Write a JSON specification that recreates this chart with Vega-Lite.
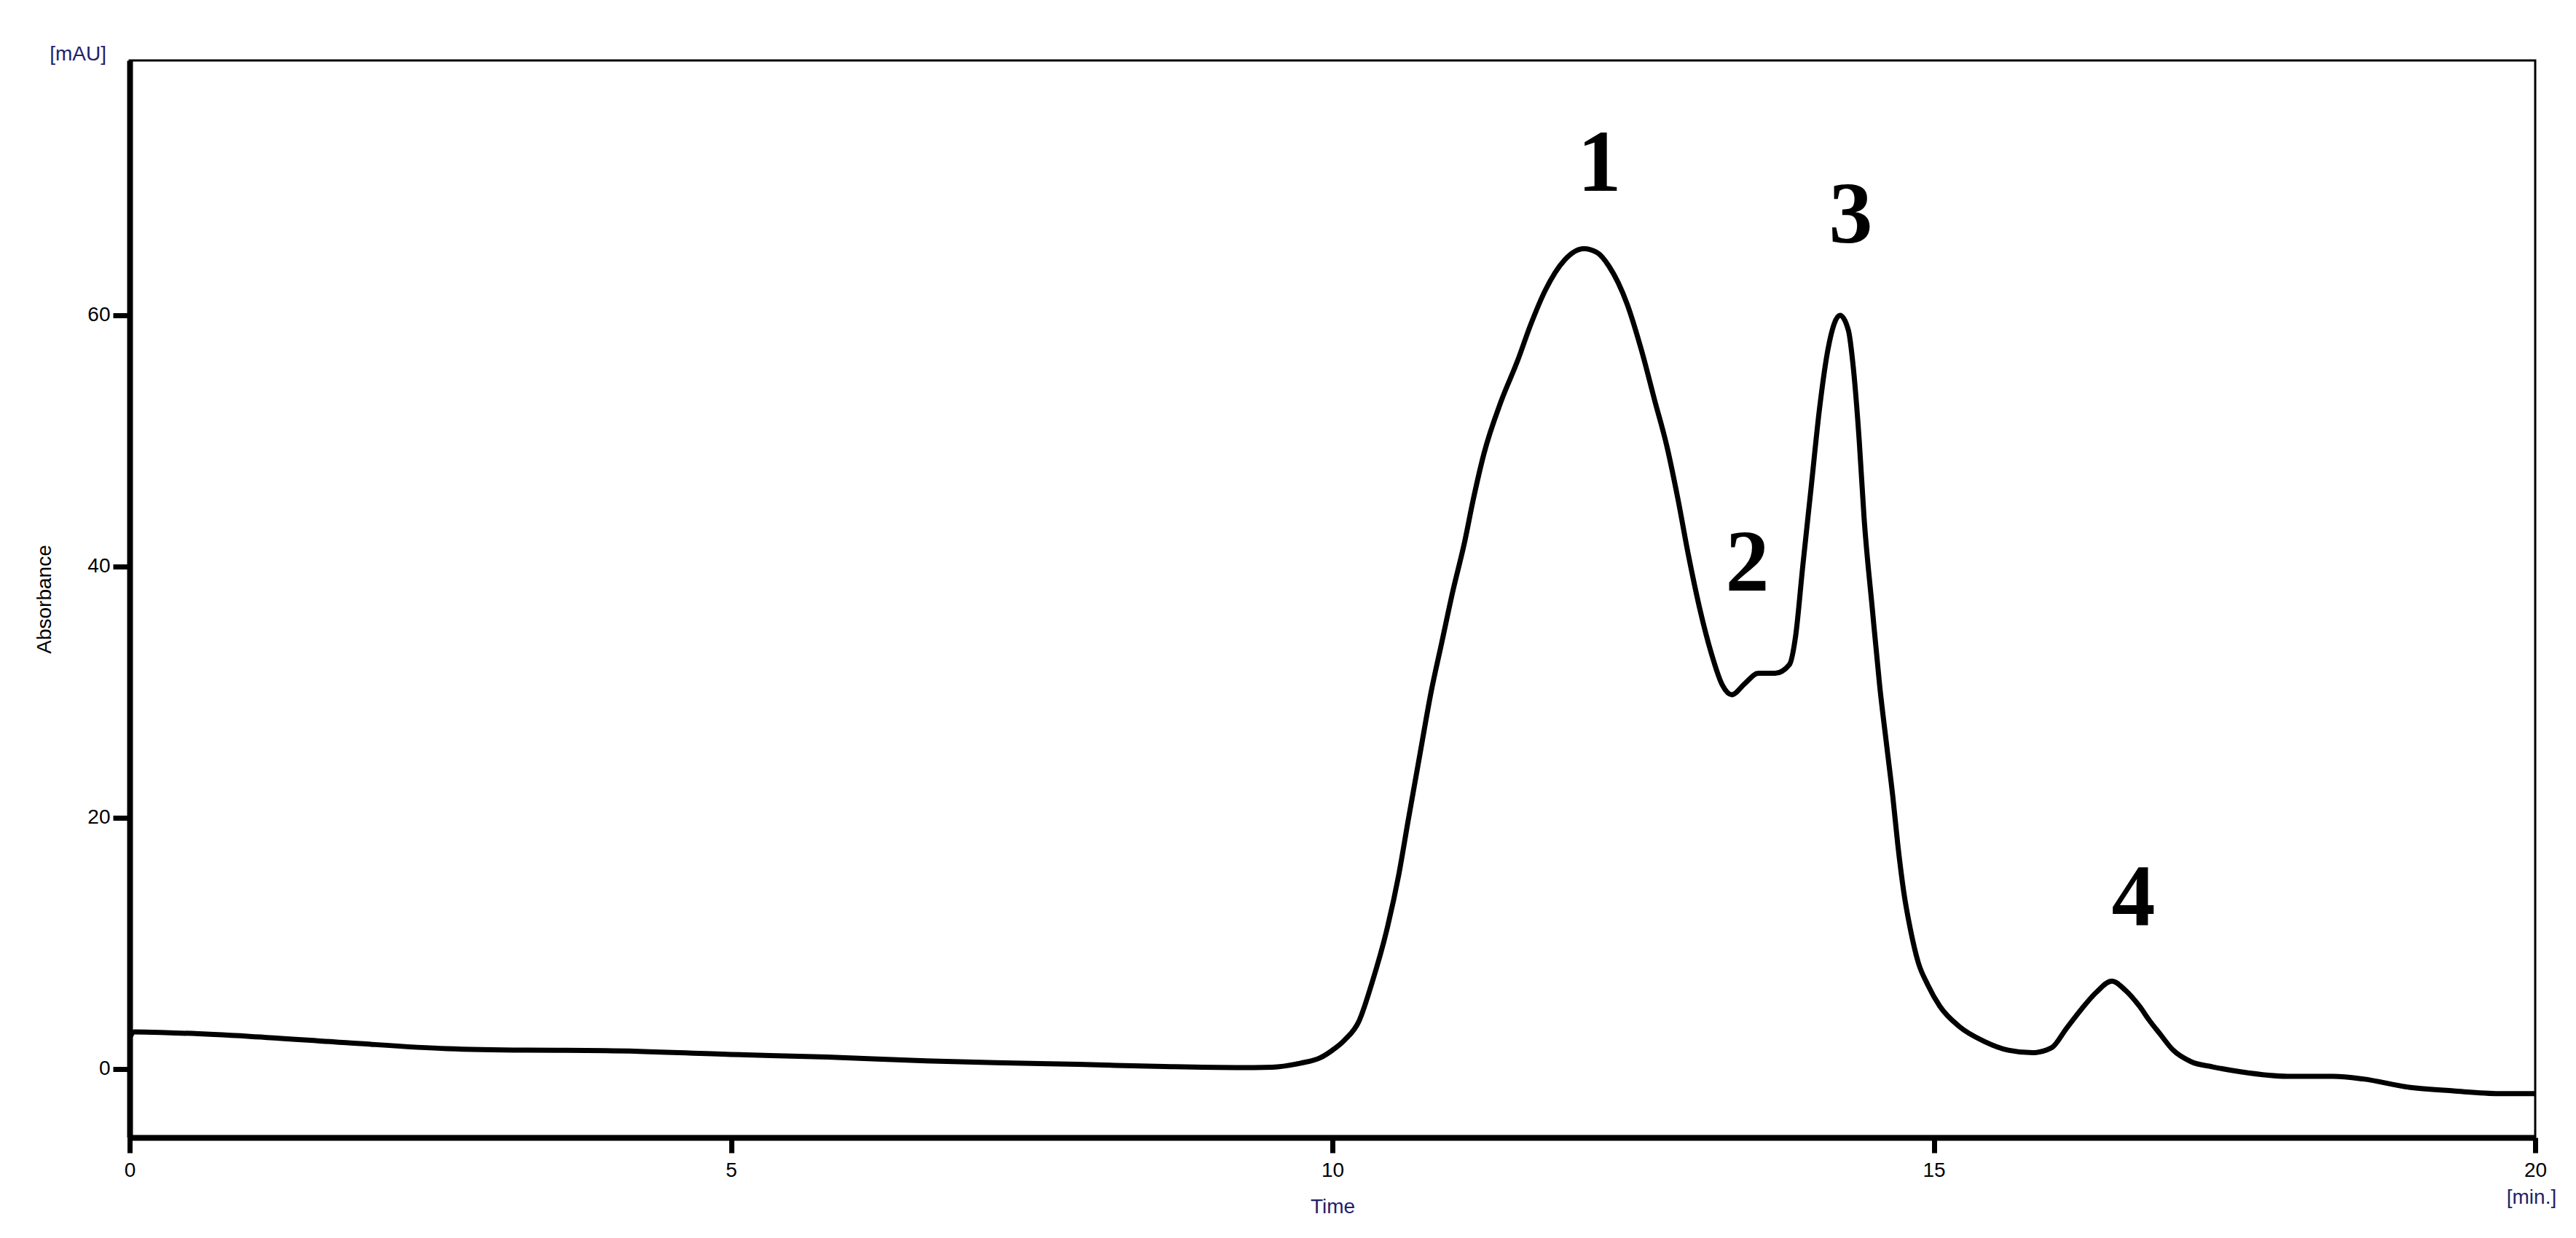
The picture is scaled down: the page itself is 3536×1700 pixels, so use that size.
{
  "$schema": "https://vega.github.io/schema/vega-lite/v6.json",
  "width": 3302,
  "height": 1479,
  "autosize": {"type": "none"},
  "padding": {"left": 178, "top": 83, "right": 56, "bottom": 138},
  "background": "#ffffff",
  "config": {
    "view": {"stroke": "#000000", "strokeWidth": 3},
    "axis": {
      "grid": false,
      "domainColor": "#000000",
      "domainWidth": 8,
      "tickColor": "#000000",
      "tickWidth": 7,
      "labelFont": "Liberation Sans",
      "labelFontSize": 28,
      "labelColor": "#000000",
      "titleFont": "Liberation Sans",
      "titleFontSize": 28,
      "titleFontWeight": "normal"
    }
  },
  "datasets": {
    "trace": [
      {"t": 0.0, "v": 2.5}, {"t": 0.04, "v": 2.95}, {"t": 0.3, "v": 2.9}, {"t": 1.0, "v": 2.6},
      {"t": 1.8, "v": 2.1}, {"t": 2.64, "v": 1.62}, {"t": 3.3, "v": 1.5}, {"t": 3.96, "v": 1.47},
      {"t": 5.0, "v": 1.16}, {"t": 5.8, "v": 0.95}, {"t": 6.58, "v": 0.66}, {"t": 7.2, "v": 0.5},
      {"t": 7.89, "v": 0.37}, {"t": 8.6, "v": 0.2}, {"t": 9.2, "v": 0.12}, {"t": 9.5, "v": 0.15},
      {"t": 9.73, "v": 0.46}, {"t": 9.9, "v": 0.9}, {"t": 10.0, "v": 1.5}, {"t": 10.1, "v": 2.3},
      {"t": 10.22, "v": 3.8}, {"t": 10.33, "v": 6.9}, {"t": 10.45, "v": 11.0}, {"t": 10.55, "v": 15.4},
      {"t": 10.63, "v": 19.8}, {"t": 10.73, "v": 25.2}, {"t": 10.82, "v": 30.0}, {"t": 10.91, "v": 34.0},
      {"t": 11.0, "v": 38.0}, {"t": 11.1, "v": 42.0}, {"t": 11.17, "v": 45.3}, {"t": 11.26, "v": 49.0},
      {"t": 11.4, "v": 53.1}, {"t": 11.54, "v": 56.4}, {"t": 11.65, "v": 59.3}, {"t": 11.77, "v": 62.0},
      {"t": 11.93, "v": 64.4}, {"t": 12.09, "v": 65.3}, {"t": 12.2, "v": 65.0}, {"t": 12.3, "v": 63.9},
      {"t": 12.45, "v": 60.9}, {"t": 12.57, "v": 57.2}, {"t": 12.68, "v": 53.2}, {"t": 12.78, "v": 49.6},
      {"t": 12.87, "v": 45.5}, {"t": 12.96, "v": 40.9}, {"t": 13.06, "v": 36.4}, {"t": 13.15, "v": 33.1},
      {"t": 13.24, "v": 30.6}, {"t": 13.32, "v": 29.8}, {"t": 13.43, "v": 30.7}, {"t": 13.54, "v": 31.5},
      {"t": 13.68, "v": 31.5}, {"t": 13.8, "v": 32.2}, {"t": 13.85, "v": 34.4}, {"t": 13.91, "v": 40.0},
      {"t": 13.98, "v": 46.3}, {"t": 14.05, "v": 52.6}, {"t": 14.12, "v": 57.3}, {"t": 14.22, "v": 60.0},
      {"t": 14.29, "v": 58.8}, {"t": 14.33, "v": 55.9}, {"t": 14.38, "v": 50.0}, {"t": 14.42, "v": 43.9},
      {"t": 14.49, "v": 36.5}, {"t": 14.55, "v": 30.5}, {"t": 14.61, "v": 25.6}, {"t": 14.66, "v": 21.6},
      {"t": 14.7, "v": 17.9}, {"t": 14.75, "v": 14.1}, {"t": 14.81, "v": 10.9}, {"t": 14.87, "v": 8.5},
      {"t": 14.95, "v": 6.7}, {"t": 15.05, "v": 5.0}, {"t": 15.21, "v": 3.4}, {"t": 15.42, "v": 2.2},
      {"t": 15.62, "v": 1.5}, {"t": 15.82, "v": 1.3}, {"t": 15.98, "v": 1.7}, {"t": 16.1, "v": 3.2},
      {"t": 16.23, "v": 4.8}, {"t": 16.35, "v": 6.1}, {"t": 16.48, "v": 7.0}, {"t": 16.59, "v": 6.3},
      {"t": 16.71, "v": 5.0}, {"t": 16.79, "v": 3.9}, {"t": 16.88, "v": 2.8}, {"t": 16.99, "v": 1.5},
      {"t": 17.14, "v": 0.58}, {"t": 17.32, "v": 0.17}, {"t": 17.56, "v": -0.23}, {"t": 17.94, "v": -0.58},
      {"t": 18.32, "v": -0.58}, {"t": 18.57, "v": -0.79}, {"t": 18.95, "v": -1.45}, {"t": 19.32, "v": -1.74},
      {"t": 19.7, "v": -1.95}, {"t": 20.0, "v": -1.95}
    ],
    "peaks": [
      {"label": "1", "t": 12.22, "v": 69.9},
      {"label": "2", "t": 13.45, "v": 38.1},
      {"label": "3", "t": 14.31, "v": 65.8},
      {"label": "4", "t": 16.66, "v": 11.4}
    ],
    "units": [
      {"text": "[mAU]", "t": 0, "v": 80.29}
    ],
    "xunits": [
      {"text": "[min.]", "t": 20, "v": -5.45}
    ]
  },
  "layer": [
    {
      "data": {"name": "trace"},
      "mark": {"type": "line", "color": "#000000", "strokeWidth": 7, "interpolate": "monotone"},
      "encoding": {
        "x": {
          "field": "t", "type": "quantitative",
          "scale": {"domain": [0, 20], "nice": false, "zero": false},
          "axis": {
            "title": "Time", "values": [0, 5, 10, 15, 20], "format": "d", "tickSize": 21,
            "labelPadding": 10, "titlePadding": 22, "titleColor": "#22226a",
            "labelFlush": false
          }
        },
        "y": {
          "field": "v", "type": "quantitative",
          "scale": {"domain": [-5.45, 80.29], "nice": false, "zero": false},
          "axis": {
            "title": "Absorbance", "values": [0, 20, 40, 60], "format": "d", "tickSize": 23,
            "labelPadding": 4, "titlePadding": 44, "titleColor": "#000000"
          }
        }
      }
    },
    {
      "data": {"name": "peaks"},
      "mark": {"type": "text", "font": "Liberation Serif", "fontWeight": "bold", "fontSize": 120, "color": "#000000", "align": "center", "baseline": "alphabetic"},
      "encoding": {
        "x": {"field": "t", "type": "quantitative"},
        "y": {"field": "v", "type": "quantitative"},
        "text": {"field": "label"}
      }
    },
    {
      "data": {"name": "units"},
      "mark": {"type": "text", "font": "Liberation Sans", "fontSize": 28, "color": "#22226a", "align": "right", "baseline": "middle", "dx": -32, "dy": -8},
      "encoding": {
        "x": {"field": "t", "type": "quantitative"},
        "y": {"field": "v", "type": "quantitative"},
        "text": {"field": "text"}
      }
    },
    {
      "data": {"name": "xunits"},
      "mark": {"type": "text", "font": "Liberation Sans", "fontSize": 28, "color": "#22226a", "align": "center", "baseline": "middle", "dx": -5, "dy": 83},
      "encoding": {
        "x": {"field": "t", "type": "quantitative"},
        "y": {"field": "v", "type": "quantitative"},
        "text": {"field": "text"}
      }
    }
  ]
}
